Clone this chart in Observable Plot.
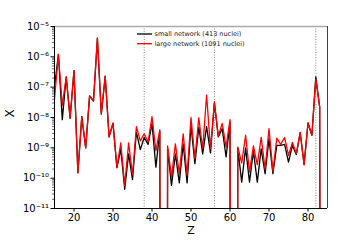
<!DOCTYPE html>
<html><head><meta charset="utf-8">
<script src="https://cdn.jsdelivr.net/npm/d3@7"></script>
<script src="https://cdn.jsdelivr.net/npm/@observablehq/plot@0.6"></script>
<style>body{margin:0;background:#fff;font-family:"DejaVu Sans",sans-serif} #chart{width:364px;height:240px}</style>
</head><body><div id="chart"></div>
<script>
const Z = [15,16,17,18,19,20,21,22,23,24,25,26,27,28,29,30,31,32,33,34,35,36,37,38,39,40,41,42,43,44,45,46,47,48,49,50,51,52,53,54,55,56,57,58,59,60,61,62,63,64,65,66,67,68,69,70,71,72,73,74,75,76,77,78,79,80,81,82,83,84];
const small = [1.0e-7,1.2e-6,8.5e-9,2.2e-7,9.5e-9,3.5e-7,1.5e-10,1.07e-8,1.0e-9,5.2e-8,3.5e-8,4.1e-6,1.3e-8,2.3e-7,2.3e-9,6.5e-9,2.2e-10,9e-10,4.3e-11,6.3e-10,9e-11,3.3e-9,8.7e-10,2.2e-9,1.3e-9,6.3e-9,2.3e-10,3.5e-9,0,9.5e-10,5.8e-11,6.3e-10,7e-11,1.35e-9,7e-11,5.5e-9,3e-10,4.8e-9,6.3e-10,5e-9,6.8e-10,3e-8,2.3e-9,4.3e-9,5e-10,7e-9,0,1e-9,7.4e-11,1e-9,7.4e-11,7.9e-10,7.4e-11,9.3e-10,1.4e-10,2e-9,1.4e-10,1.2e-9,1.2e-9,1.3e-9,3.4e-10,1.2e-9,6e-10,3.2e-9,2.8e-10,6.6e-9,2.6e-9,2.2e-7,2.2e-8,0];
const large = [4e-8,1.2e-6,2.5e-8,2.2e-7,9.5e-9,3.5e-7,1.5e-10,1.07e-8,1e-9,5.2e-8,3.5e-8,4.1e-6,1.3e-8,2.3e-7,2.3e-9,6.5e-9,2.3e-10,1.45e-9,5.8e-11,1.45e-9,1.3e-10,5e-9,1.7e-9,2.9e-9,1.55e-9,1.07e-8,8e-10,4e-9,0,1.15e-9,1.1e-10,1.35e-9,1.4e-10,2.9e-9,1.25e-10,1e-8,4.4e-10,9.8e-9,9.3e-10,5.5e-8,9.3e-10,3.3e-8,2.4e-9,6.4e-9,1.05e-9,8.5e-9,0,1.05e-9,3.2e-10,2.6e-9,1.6e-10,1.15e-9,2.8e-10,2.2e-9,2e-10,4.3e-9,1.7e-10,2.1e-9,1.3e-9,2.2e-9,5.6e-10,1.5e-9,6.5e-10,3.2e-9,2.8e-10,6.6e-9,2.6e-9,1.85e-7,2.2e-8,0];
const magicZ = [38,56,82];
const xTicks = [20,30,40,50,60,70,80];
const yTicks = [1e-11,1e-10,1e-9,1e-8,1e-7,1e-6,1e-5];
const seriesNames = ["small network (413 nuclei)","large network (1091 nuclei)"];
const seriesColors = ["#000000","#ff0000"];

const sup = {"-":"\u207B","0":"\u2070","1":"\u00B9","2":"\u00B2","3":"\u00B3","4":"\u2074","5":"\u2075","6":"\u2076","7":"\u2077","8":"\u2078","9":"\u2079"};
const fmt = d => "10" + String(Math.round(Math.log10(d))).split("").map(c => sup[c]).join("");
const minor = [];
for (const t of yTicks.slice(0,-1)) for (let k=2;k<10;k++) minor.push(t*k);

const rowsS = Z.map((z,i)=>({z, v: Math.max(small[i],1e-100)}));
const rowsL = Z.map((z,i)=>({z, v: Math.max(large[i],1e-100)}));

const plot = Plot.plot({
  width: 364, height: 240,
  marginLeft: 54, marginRight: 37, marginTop: 26, marginBottom: 32,
  style: {fontFamily: "DejaVu Sans", background: "#fff"},
  x: {domain: [15, 85]},
  y: {type: "log", domain: [1e-11, 1e-5]},
  marks: [
    Plot.ruleX(magicZ, {stroke: "#888", strokeWidth: 1, strokeDasharray: "1,1.6"}),
    Plot.line(rowsS, {x: "z", y: "v", stroke: seriesColors[0], strokeWidth: 1.3, clip: true}),
    Plot.line(rowsL, {x: "z", y: "v", stroke: seriesColors[1], strokeWidth: 1.3, clip: true}),
    Plot.ruleY([1e-5], {stroke: "#aaa", strokeWidth: 1.5}),
    Plot.ruleX([85], {stroke: "#444", strokeWidth: 1}),
    Plot.ruleX([15], {stroke: "#000", strokeWidth: 1}),
    Plot.ruleY([1e-11], {stroke: "#000", strokeWidth: 1}),
    Plot.axisX({ticks: xTicks, tickSize: 3.5, tickPadding: 1.5, fontSize: 10, label: null, tickFormat: d => String(d)}),
    Plot.axisY({ticks: yTicks, tickSize: 3.5, tickPadding: 2, fontSize: 10, label: null, tickFormat: fmt}),
    Plot.axisY({ticks: minor, tickSize: 2, text: null, label: null, strokeWidth: 0.6}),
    Plot.text(["X"], {frameAnchor: "left", dx: -44, fontSize: 12, rotate: -90}),
    Plot.text(["Z"], {frameAnchor: "bottom", dy: 25.5, fontSize: 11})
  ]
});
const svg = d3.select(plot);
const leg = svg.append("g").attr("font-family","DejaVu Sans").attr("font-size", 6.5).attr("text-anchor","start");
seriesNames.forEach((name,i)=>{
  const y = 34 + i*9.7;
  leg.append("line").attr("x1",137).attr("x2",152).attr("y1",y).attr("y2",y).attr("stroke",seriesColors[i]).attr("stroke-width",1.3);
  leg.append("text").attr("x",154.5).attr("y",y).attr("dy","0.35em").attr("fill","#222").text(name);
});
document.getElementById("chart").appendChild(plot);
</script>
</body></html>
